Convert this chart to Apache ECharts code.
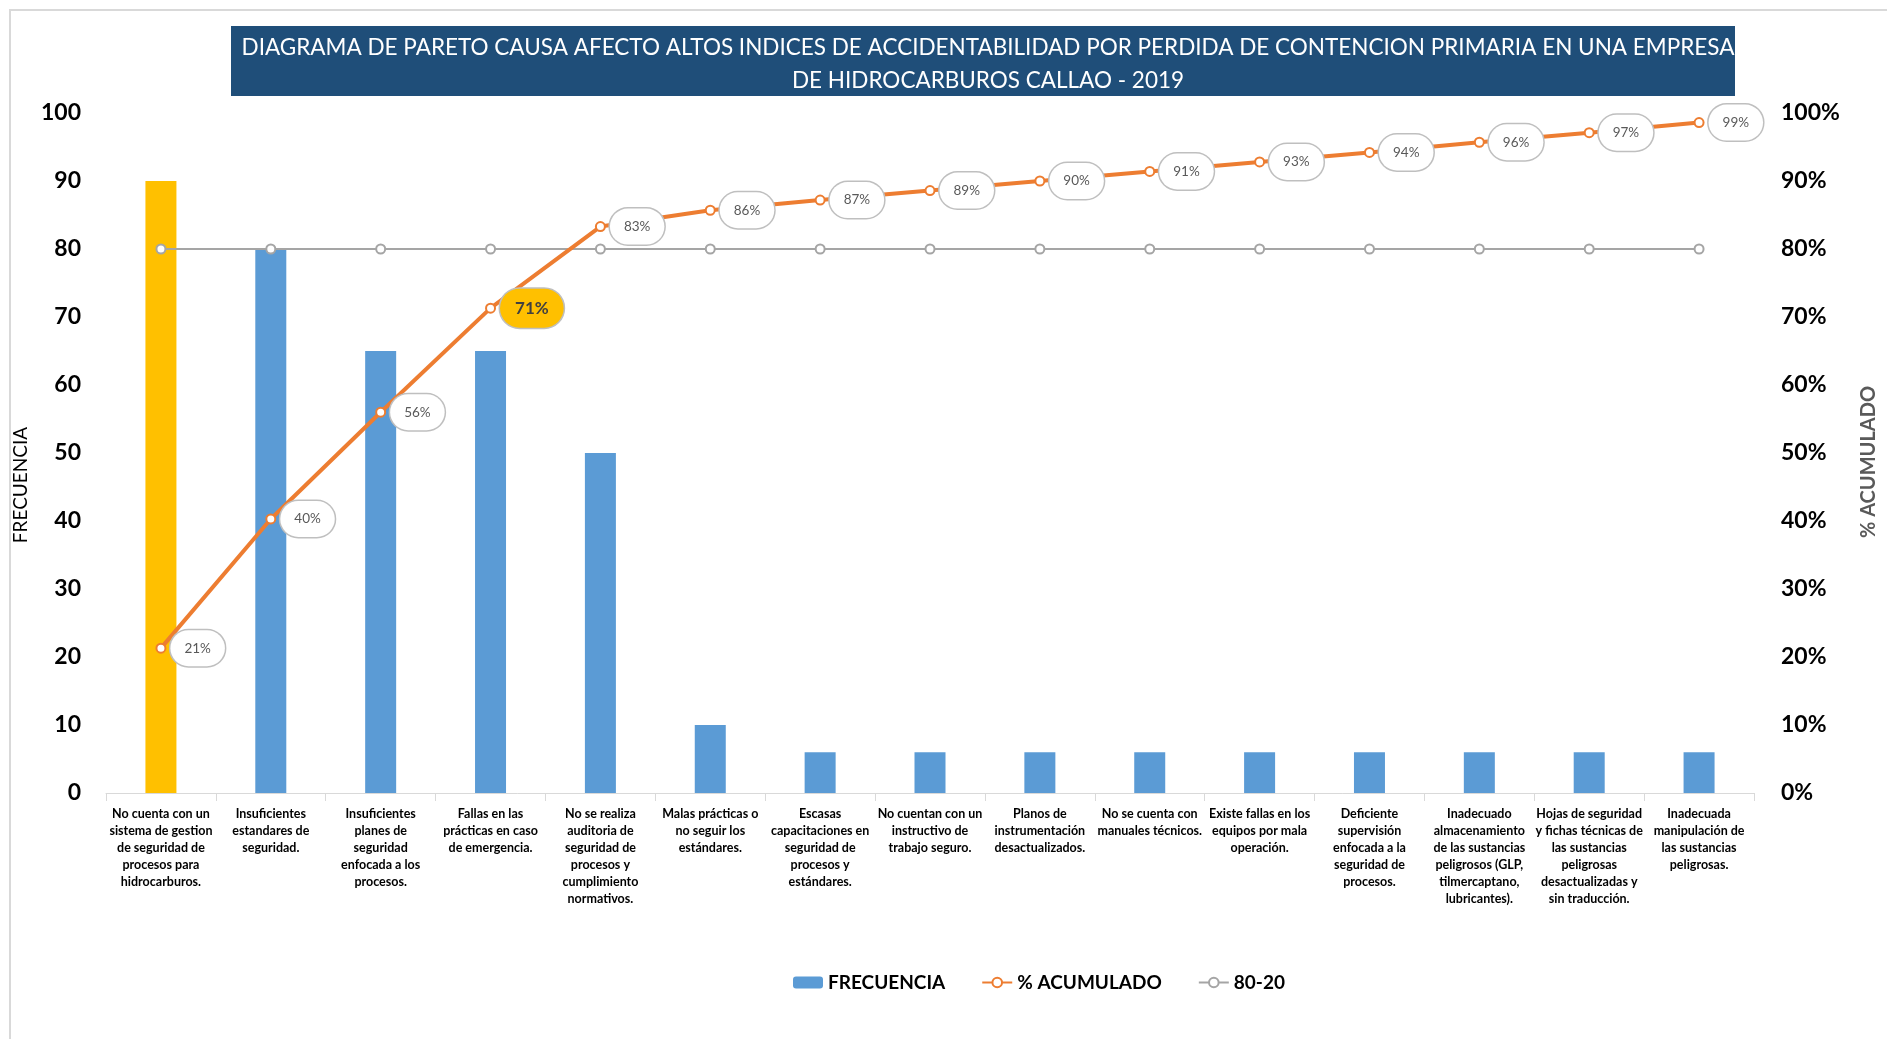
<!DOCTYPE html>
<html>
<head>
<meta charset="utf-8">
<script src="https://cdn.jsdelivr.net/npm/echarts@6/dist/echarts.min.js"></script>
<style>html,body{margin:0;padding:0;background:#fff;}#c{width:1887px;height:1039px;}</style>
</head>
<body>
<div id="c"></div>
<script>
const titleText = 'DIAGRAMA DE PARETO CAUSA AFECTO ALTOS INDICES DE ACCIDENTABILIDAD POR PERDIDA DE CONTENCION PRIMARIA EN UNA EMPRESA\nDE HIDROCARBUROS CALLAO - 2019';
const categories = [
  'No cuenta con un\nsistema de gestion\nde seguridad de\nprocesos para\nhidrocarburos.',
  'Insuficientes\nestandares de\nseguridad.',
  'Insuficientes\nplanes de\nseguridad\nenfocada a los\nprocesos.',
  'Fallas en las\nprácticas en caso\nde emergencia.',
  'No se realiza\nauditoria de\nseguridad de\nprocesos y\ncumplimiento\nnormativos.',
  'Malas prácticas o\nno seguir los\nestándares.',
  'Escasas\ncapacitaciones en\nseguridad de\nprocesos y\nestándares.',
  'No cuentan con un\ninstructivo de\ntrabajo seguro.',
  'Planos de\ninstrumentación\ndesactualizados.',
  'No se cuenta con\nmanuales técnicos.',
  'Existe fallas en los\nequipos por mala\noperación.',
  'Deficiente\nsupervisión\nenfocada a la\nseguridad de\nprocesos.',
  'Inadecuado\nalmacenamiento\nde las sustancias\npeligrosos (GLP,\ntilmercaptano,\nlubricantes).',
  'Hojas de seguridad\ny fichas técnicas de\nlas sustancias\npeligrosas\ndesactualizadas y\nsin traducción.',
  'Inadecuada\nmanipulación de\nlas sustancias\npeligrosas.'
];
const frecuencia = [90, 80, 65, 65, 50, 10, 6, 6, 6, 6, 6, 6, 6, 6, 6];
const acumulado = [21.3, 40.3, 56, 71.3, 83.3, 85.7, 87.2, 88.6, 90, 91.4, 92.8, 94.2, 95.7, 97.1, 98.6];
const linea8020 = [80, 80, 80, 80, 80, 80, 80, 80, 80, 80, 80, 80, 80, 80, 80];
const yLeftTicks = {min: 0, max: 100, interval: 10};
const yRightTicks = {min: 0, max: 100, interval: 10};

const FONT = 'Lato, "Open Sans", "Liberation Sans", sans-serif';
const chart = echarts.init(document.getElementById('c'), null, {renderer: 'canvas'});

const barData = frecuencia.map((v, i) => i === 0 ? {value: v, itemStyle: {color: '#FFC000'}} : v);
const cumData = acumulado.map((v, i) => i === 3 ? {
  value: v,
  label: {backgroundColor: '#FFC000', fontSize: 17, fontWeight: 'bold', color: '#404040', padding: [11, 15], borderRadius: 24, offset: [0, 0]}
} : v);

chart.setOption({
  backgroundColor: '#fff',
  animation: false,
  graphic: [
    {type: 'rect', shape: {x: 10, y: 10, width: 1900, height: 1060}, style: {fill: 'none', stroke: '#D9D9D9', lineWidth: 2}, z: -10},
    {type: 'rect', shape: {x: 231, y: 26, width: 1504, height: 70}, style: {fill: '#1F4E79'}, z: -5}
  ],
  title: {
    text: titleText,
    left: 983, top: 26, textAlign: 'center',
    textStyle: {color: '#fff', fontSize: 22.5, fontWeight: 'normal', fontFamily: FONT, lineHeight: 33}
  },
  grid: {left: 106, right: 133, top: 113, bottom: 246, containLabel: false},
  legend: {
    top: 968, left: 788, itemGap: 36, itemWidth: 30, itemHeight: 12,
    textStyle: {fontFamily: FONT, fontSize: 19, fontWeight: 'bold', color: '#000'},
    data: ['FRECUENCIA', '% ACUMULADO', '80-20']
  },
  xAxis: {
    type: 'category', data: categories,
    axisLine: {lineStyle: {color: '#D9D9D9', width: 1}},
    axisTick: {show: true, length: 8, lineStyle: {color: '#D9D9D9'}},
    axisLabel: {interval: 0, margin: 12, fontFamily: FONT, fontSize: 12.5, fontWeight: 'bold', color: '#000', lineHeight: 17, align: 'center'}
  },
  yAxis: [
    {
      type: 'value', min: yLeftTicks.min, max: yLeftTicks.max, interval: yLeftTicks.interval,
      name: 'FRECUENCIA', nameLocation: 'middle', nameGap: 67, nameRotate: 90,
      nameTextStyle: {fontFamily: FONT, fontSize: 19, color: '#000', padding: [0, 0, 0, -64]},
      splitLine: {show: false}, axisLine: {show: false}, axisTick: {show: false},
      axisLabel: {fontFamily: FONT, fontSize: 23, fontWeight: 'bold', color: '#000', margin: 25}
    },
    {
      type: 'value', min: yRightTicks.min, max: yRightTicks.max, interval: yRightTicks.interval,
      name: '% ACUMULADO', nameLocation: 'middle', nameGap: 105, nameRotate: 90,
      nameTextStyle: {fontFamily: FONT, fontSize: 20, fontWeight: 'bold', color: '#595959', padding: [0, 0, 0, -18]},
      splitLine: {show: false}, axisLine: {show: false}, axisTick: {show: false},
      axisLabel: {fontFamily: FONT, fontSize: 23, fontWeight: 'bold', color: '#000', margin: 27, formatter: '{value}%'}
    }
  ],
  series: [
    {
      name: 'FRECUENCIA', type: 'bar', data: barData, barWidth: 31,
      itemStyle: {color: '#5B9BD5'}, z: 1
    },
    {
      name: '80-20', type: 'line', yAxisIndex: 0, data: linea8020,
      symbol: 'circle', symbolSize: 9, showAllSymbol: true,
      lineStyle: {color: '#A5A5A5', width: 2},
      itemStyle: {color: '#fff', borderColor: '#A5A5A5', borderWidth: 2}, z: 3
    },
    {
      name: '% ACUMULADO', type: 'line', yAxisIndex: 1, data: cumData,
      symbol: 'circle', symbolSize: 9, showAllSymbol: true,
      lineStyle: {color: '#ED7D31', width: 4},
      itemStyle: {color: '#fff', borderColor: '#ED7D31', borderWidth: 2}, z: 4,
      label: {
        show: true, position: 'right', distance: 4,
        formatter: p => Math.round(p.value) + '%',
        fontFamily: FONT, fontSize: 13.5, color: '#595959',
        backgroundColor: '#fff', borderColor: '#BFBFBF', borderWidth: 1.5,
        borderRadius: 20, padding: [11, 14]
      }
    }
  ]
});
</script>
</body>
</html>
